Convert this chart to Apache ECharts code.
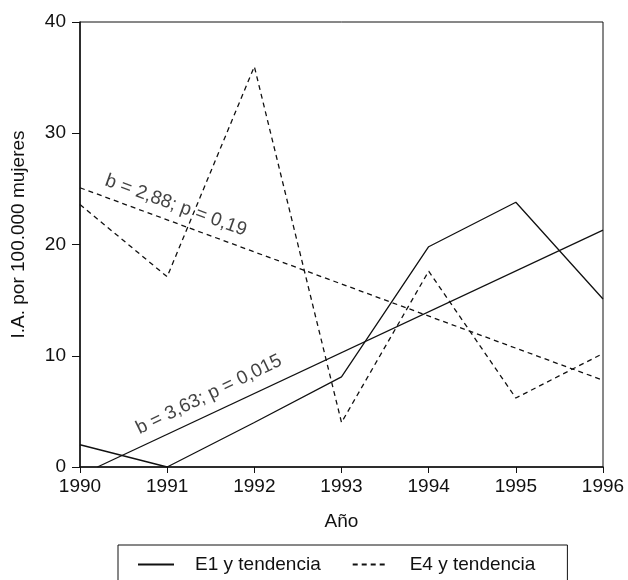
<!DOCTYPE html>
<html>
<head>
<meta charset="utf-8">
<script src="https://cdn.jsdelivr.net/npm/echarts@6/dist/echarts.min.js"></script>
<style>
  html, body { margin: 0; padding: 0; background: #fff; }
  #main { width: 628px; height: 580px; }
</style>
</head>
<body>
<div id="main"></div>
<script>
// data
const years = [1990, 1991, 1992, 1993, 1994, 1995, 1996];
const e1 = [2, 0, 4, 8.1, 19.8, 23.8, 15.1];
const e4 = [23.6, 17.1, 36, 4, 17.6, 6.2, 10.2];
// trend lines (start / end points)
const e1Trend = [[1990.2, 0], [1996, 21.3]];
const e4Trend = [[1990, 25.1], [1996, 7.8]];
const e1Note = 'b = 3,63; p = 0,015';
const e4Note = 'b = 2,88; p = 0,19';

const FONT = 'Liberation Sans, Arial, sans-serif';
const ink = '#111';
const FS = 19;

let myChart = echarts.init(document.getElementById('main'));

function pairs(xs, ys) {
  return xs.map((x, i) => [x, ys[i]]);
}

const solid = { color: ink, width: 1.3, type: 'solid' };
const dashed = { color: ink, width: 1.3, type: [5, 4] };

let options = {
  animation: false,
  backgroundColor: '#fff',
  textStyle: { fontFamily: FONT, color: ink },
  grid: {
    left: 80, right: 25, top: 22, bottom: 113,
    show: true, borderColor: ink, borderWidth: 1
  },
  legend: {
    data: ['E1 y tendencia', 'E4 y tendencia'],
    left: 118, top: 545,
    padding: [10, 32, 20, 19],
    borderColor: ink, borderWidth: 1,
    itemWidth: 36, itemHeight: 12, itemGap: 31,
    itemStyle: { color: 'transparent', borderWidth: 0 },
    textStyle: { fontSize: FS, color: ink, fontFamily: FONT, padding: [0, 0, 0, 16] }
  },
  xAxis: {
    type: 'value', min: 1990, max: 1996, interval: 1,
    name: 'Año', nameLocation: 'middle', nameGap: 45,
    nameTextStyle: { fontSize: FS, color: ink },
    axisLine: { lineStyle: { color: ink, width: 1.5 } },
    axisTick: { show: true, length: 6, lineStyle: { color: ink } },
    axisLabel: { fontSize: FS, color: ink, margin: 10, formatter: v => String(v) },
    splitLine: { show: false }
  },
  yAxis: {
    type: 'value', min: 0, max: 40, interval: 10,
    name: 'I.A. por 100.000 mujeres', nameLocation: 'middle', nameGap: 52,
    nameTextStyle: { fontSize: FS, color: ink, padding: [0, 0, 0, 20] },
    axisLine: { show: true, lineStyle: { color: ink, width: 1.5 } },
    axisTick: { show: true, length: 8, lineStyle: { color: ink } },
    axisLabel: { fontSize: FS, color: ink, margin: 14 },
    splitLine: { show: false }
  },
  series: [
    { name: 'E1 y tendencia', type: 'line', symbol: 'none', data: pairs(years, e1), lineStyle: solid, itemStyle: { color: ink } },
    { name: 'E1 tendencia', type: 'line', symbol: 'none', data: e1Trend, lineStyle: solid, itemStyle: { color: ink } },
    { name: 'E4 y tendencia', type: 'line', symbol: 'none', data: pairs(years, e4), lineStyle: dashed, itemStyle: { color: ink } },
    { name: 'E4 tendencia', type: 'line', symbol: 'none', data: e4Trend, lineStyle: dashed, itemStyle: { color: ink } },
    {
      name: 'notes', type: 'scatter', symbolSize: 0, silent: true,
      data: [
        { value: [1991.48, 6.5], label: { formatter: e1Note, rotate: 26 } },
        { value: [1991.10, 23.5], label: { formatter: e4Note, rotate: -20 } }
      ],
      label: { show: true, position: 'inside', fontSize: FS, color: ink, fontFamily: FONT }
    }
  ]
};

myChart.setOption(options);
</script>
</body>
</html>
